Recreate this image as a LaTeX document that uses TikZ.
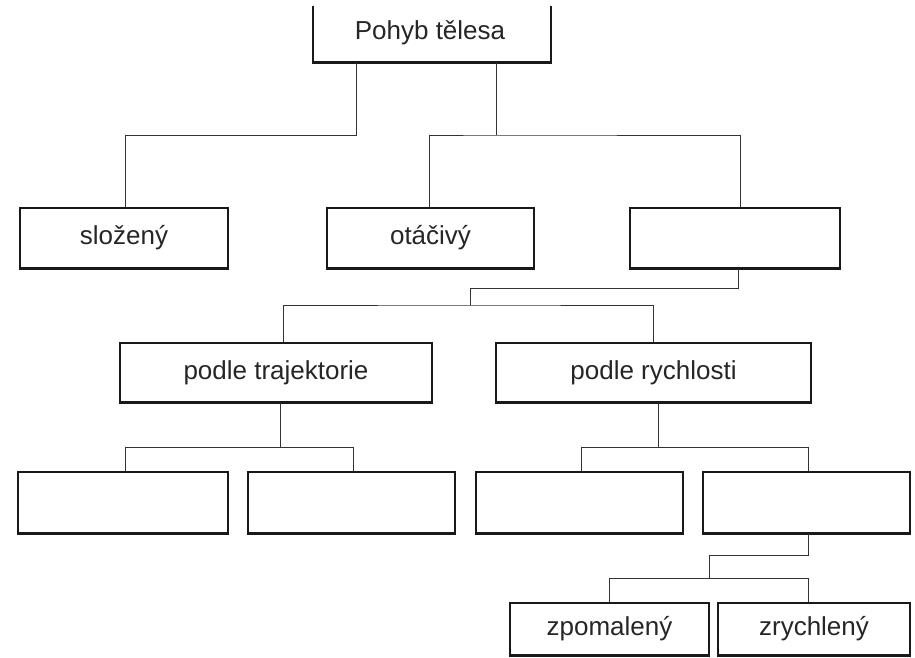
\documentclass[tikz,border=0pt]{standalone}
\usepackage{fontspec}
\setmainfont{Liberation Sans}
\begin{document}
\begin{tikzpicture}[x=1pt,y=-1pt,
  box/.style={draw=black!90, line width=1.5pt, rectangle, inner sep=0pt, text=black!85, font=\fontsize{26}{30}\selectfont},
  lbl/.style={font=\fontsize{26}{30}\selectfont, text=black!85, inner sep=0pt},
  conn/.style={line width=0.9pt, draw=black!80}]
\useasboundingbox (0,0) rectangle (915,657);
\fill[white] (0,0) rectangle (915,657);
% boxes
\node[box, minimum width=238pt, minimum height=69pt] (top) at (432,27.5) {};
\node[lbl] (toplbl) at (430,33) {Pohyb tělesa};
\node[box, minimum width=208pt, minimum height=60pt] (slozeny) at (124,238) {složený};
\node[box, minimum width=207pt, minimum height=60pt] (otacivy) at (430.5,238) {otáčivý};
\node[box, minimum width=210pt, minimum height=60pt] (posuvny) at (735,238) {};
\node[box, minimum width=312pt, minimum height=59pt] (traj) at (276,372.5) {podle trajektorie};
\node[box, minimum width=315pt, minimum height=59pt] (rych) at (653.5,372.5) {podle rychlosti};
\node[box, minimum width=210pt, minimum height=61pt] (ra) at (123,502.5) {};
\node[box, minimum width=207pt, minimum height=61pt] (rb) at (351.5,502.5) {};
\node[box, minimum width=207pt, minimum height=61pt] (rc) at (579.5,502.5) {};
\node[box, minimum width=207pt, minimum height=61pt] (rd) at (806.5,502.5) {};
\node[box, minimum width=199pt, minimum height=52pt] (zpom) at (609.5,629) {zpomalený};
\node[box, minimum width=192pt, minimum height=52pt] (zrych) at (814,629) {zrychlený};
% hide the top border of the uppermost box (it is cut off in the reference)
\fill[white] (300,-10) rectangle (560,6);
\foreach \n in {top,slozeny,otacivy,posuvny,traj,rych,ra,rb,rc,rd,zpom,zrych}
  \draw[line width=2.8pt, black!90] (\n.south west) -- (\n.south east);
% junction coordinates
\coordinate (j1) at (356,135);
\coordinate (j2) at (496,135);
\coordinate (j3) at (738,288);
\coordinate (j4) at (470,305);
\coordinate (j5) at (280,447);
\coordinate (j6) at (658,447);
\coordinate (j7) at (808,555);
\coordinate (j8) at (709,578);
% connectors
\draw[conn] (j1 |- top.south) -- (j1) -| ([xshift=1pt]slozeny.north);
\draw[conn] (j2 |- top.south) -- (j2);
\draw[conn] ([xshift=-1.5pt]otacivy.north) |- (j2) -| ([xshift=5pt]posuvny.north);
\draw[conn] (j3 |- posuvny.south) -- (j3) -| (j4);
\draw[conn] ([xshift=7pt]traj.north) |- (j4) -| (rych.north);
\draw[conn] (j5 |- traj.south) -- (j5);
\draw[conn] ([xshift=2pt]ra.north) |- (j5) -| ([xshift=1.5pt]rb.north);
\draw[conn] (j6 |- rych.south) -- (j6);
\draw[conn] ([xshift=1.5pt]rc.north) |- (j6) -| ([xshift=1.5pt]rd.north);
\draw[conn] (j7 |- rd.south) -- (j7) -| (j8);
\draw[conn] (zpom.north) |- (j8) -| ([xshift=-6pt]zrych.north);
\end{tikzpicture}
\end{document}
